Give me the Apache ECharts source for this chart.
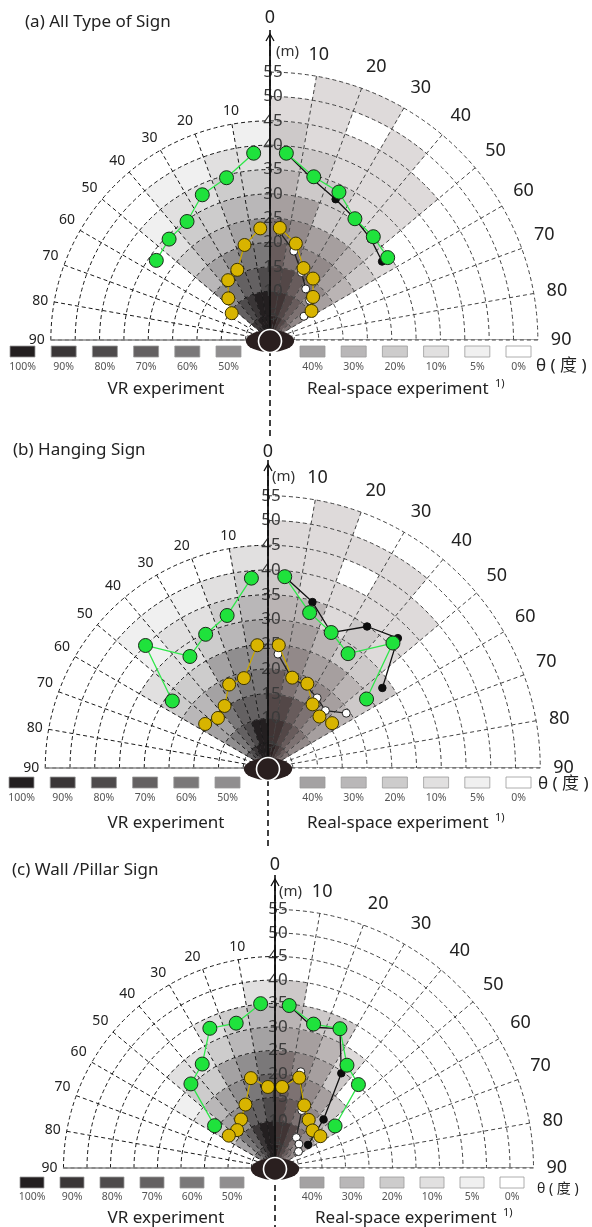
<!DOCTYPE html>
<html>
<head>
<meta charset="utf-8">
<script src="https://cdn.jsdelivr.net/npm/echarts@6/dist/echarts.min.js"></script>
<style>
  html, body { margin: 0; padding: 0; background: #fff; }
  #main { width: 592px; height: 1227px; }
</style>
</head>
<body>
<div id="main"></div>
<script>
// angle of each plotted point, degrees from the vertical (VR side is mirrored to the left)
const pointAngles = [5, 15, 25, 35, 45, 55];
const angleBinWidth = 10;
const radiusBinWidth = 5;
const vrMax = 45;
const realMax = 55;
const legendVR = [100, 90, 80, 70, 60, 50];
const legendReal = [40, 30, 20, 10, 5, 0];

// shading in %, one row per 10° bin (0-10, 10-20, ...), one value per 5 m ring (0-5, 5-10, ...)
const shadeA_VR = [
  [100, 100, 80, 60, 50, 30, 20, 10, 5],
  [100, 100, 70, 60, 40, 30, 20, 10],
  [100, 90, 70, 50, 30, 20, 10, 5],
  [90, 80, 60, 40, 30, 20, 10, 5],
  [90, 70, 50, 30, 20, 10, 5]
];
const shadeA_Real = [
  [100, 90, 80, 70, 60, 40, 30, 20, 20, 10],
  [100, 90, 80, 60, 50, 40, 20, 20, 10, 10, 10],
  [90, 80, 70, 50, 40, 20, 20, 10, 10, 0, 10],
  [80, 70, 60, 50, 40, 20, 10, 10, 10, 10],
  [70, 60, 50, 40, 30, 20, 10, 10, 10],
  [60, 50, 40, 30, 20, 10]
];
const shadeB_VR = [
  [100, 100, 70, 60, 50, 40, 30, 20, 10],
  [100, 100, 70, 60, 50, 30, 20, 10],
  [100, 80, 70, 50, 40, 20, 10, 5],
  [90, 70, 60, 40, 20, 10, 10, 5],
  [80, 60, 40, 30, 20, 10, 5, 5],
  [70, 50, 40, 30, 20, 10]
];
const shadeB_Real = [
  [100, 90, 80, 70, 50, 40, 30, 20, 10, 10],
  [100, 90, 80, 60, 50, 40, 30, 10, 10, 10, 10],
  [90, 80, 70, 50, 40, 30, 10, 10, 0, 10],
  [80, 70, 60, 50, 40, 20, 20, 10, 10, 10],
  [70, 60, 50, 40, 30, 20, 10, 10, 10],
  [60, 50, 40, 30, 20, 20]
];
const shadeC_VR = [
  [100, 100, 80, 70, 60, 40, 30, 10],
  [100, 100, 70, 60, 50, 30, 20],
  [90, 90, 70, 50, 40, 20, 10],
  [80, 70, 50, 40, 20, 10],
  [70, 60, 40, 30, 20, 10],
  [60, 40, 20, 10, 5]
];
const shadeC_Real = [
  [100, 90, 80, 70, 60, 40, 30, 20],
  [90, 90, 70, 60, 50, 40, 20],
  [80, 80, 60, 50, 40, 30, 20],
  [70, 60, 50, 40, 20, 10],
  [60, 50, 30, 20],
  [50, 40, 20]
];

// distances (m) at pointAngles
const greenA_VR = [38.5, 34.5, 32.9, 29.7, 29.3, 28.5];
const yellowA_VR = [23.0, 20.2, 15.9, 15.0, 12.1, 9.6];
const greenA_Real = [38.5, 34.7, 33.5, 30.4, 30.0, 29.5];
const blackA_Real = [38.5, 34.1, 31.9, 30.4, 29.3, 28.1];
const yellowA_Real = [23.1, 20.5, 16.3, 15.4, 12.5, 10.4];
const whiteA_Real = [22.3, 18.9, 15.3, 12.8, 11.5, 8.5];

const greenB_VR = [38.5, 31.9, 29.8, 27.5, 35.0, 23.6];
const yellowB_VR = [24.9, 18.8, 18.6, 15.3, 14.3, 15.5];
const greenB_Real = [38.8, 32.5, 30.2, 28.2, 35.7, 24.3];
const blackB_Real = [38.8, 34.7, 30.2, 34.9, 37.1, 28.2];
const yellowB_Real = [24.9, 18.9, 18.8, 15.7, 14.7, 15.8];
const whiteB_Real = [23.1, 18.7, 18.3, 17.3, 16.4, 19.3];

const greenC_VR = [35.1, 31.9, 32.8, 27.0, 25.3, 15.7];
const yellowC_VR = [17.3, 19.8, 14.9, 12.6, 11.4, 12.0];
const greenC_Real = [34.7, 31.7, 32.7, 26.7, 25.1, 15.6];
const blackC_Real = [34.7, 31.0, 32.7, 24.6, 14.6, 8.6];
const yellowC_Real = [17.3, 19.9, 14.7, 12.5, 11.3, 11.8];
const whiteC_Real = [17.0, 21.2, 13.5, 7.9, 7.2, 6.1];

const grayVR = {100: '#231f20', 90: '#3a3637', 80: '#4e4b4c', 70: '#646162', 60: '#7a7879', 50: '#908e8f',
  40: '#a4a2a3', 30: '#b9b7b8', 20: '#cdcccc', 10: '#e1e0e0', 5: '#f0f0f0', 0: '#ffffff'};
const grayReal = {100: '#2d2222', 90: '#403434', 80: '#534747', 70: '#685c5c', 60: '#7d7272', 50: '#928989',
  40: '#a69f9f', 30: '#bab4b4', 20: '#cdc9c9', 10: '#dedada', 5: '#ecebeb', 0: '#ffffff'};

const FONT = '"Noto Sans", "Noto Sans CJK SC", sans-serif';

const panels = [
  {title: '(a) All Type of Sign', titleX: 25, titleY: 22, cx: 270, cy: 340, k: 4.87,
    tipY: 34, zeroY: 18, mX: 276, mY: 52, dashTop: 30, dashBottom: 440,
    legY: 346, labY: 367, expY: 389, lx: 10, rx: 300, step: 41.2, sw: 25, thX: 536, thY: 366, thSize: 17,
    vrX: 166, realX: 307,
    shadeVR: shadeA_VR, shadeReal: shadeA_Real, greenVR: greenA_VR, yellowVR: yellowA_VR,
    greenReal: greenA_Real, blackReal: blackA_Real, yellowReal: yellowA_Real, whiteReal: whiteA_Real},
  {title: '(b) Hanging Sign', titleX: 13, titleY: 450, cx: 268, cy: 768, k: 4.95,
    tipY: 464, zeroY: 452, mX: 272, mY: 477, dashTop: 460, dashBottom: 850,
    legY: 777, labY: 798, expY: 823, lx: 9, rx: 300, step: 41.2, sw: 25, thX: 538, thY: 784, thSize: 17,
    vrX: 166, realX: 307,
    shadeVR: shadeB_VR, shadeReal: shadeB_Real, greenVR: greenB_VR, yellowVR: yellowB_VR,
    greenReal: greenB_Real, blackReal: blackB_Real, yellowReal: yellowB_Real, whiteReal: whiteB_Real},
  {title: '(c) Wall /Pillar Sign', titleX: 12, titleY: 870, cx: 275, cy: 1168, k: 4.7,
    tipY: 879, zeroY: 865, mX: 279, mY: 892, dashTop: 875, dashBottom: 1227,
    legY: 1177, labY: 1197, expY: 1218, lx: 20, rx: 300, step: 40, sw: 24, thX: 537, thY: 1189, thSize: 14,
    vrX: 166, realX: 315,
    shadeVR: shadeC_VR, shadeReal: shadeC_Real, greenVR: greenC_VR, yellowVR: yellowC_VR,
    greenReal: greenC_Real, blackReal: blackC_Real, yellowReal: yellowC_Real, whiteReal: whiteC_Real}
];

// [r0, r1, a0, a1, pct] for every shaded cell; sign -1 puts it on the VR (left) side
function cellData(grid, sign) {
  const out = [];
  grid.forEach((row, ai) => {
    row.forEach((pct, ri) => {
      if (!pct) return;
      const a0 = ai * angleBinWidth, a1 = a0 + angleBinWidth;
      out.push([ri * radiusBinWidth, (ri + 1) * radiusBinWidth,
        sign < 0 ? -a1 : a0, sign < 0 ? -a0 : a1, pct]);
    });
  });
  return out;
}

function cellRenderer(palette) {
  return function (params, api) {
    const r0 = api.value(0), r1 = api.value(1), a0 = api.value(2), a1 = api.value(3), pct = api.value(4);
    const c = api.coord([0, a0]);
    const pin = api.coord([r0, a0]);
    const p0 = api.coord([r1, a0]);
    const p1 = api.coord([r1, a1]);
    let s = Math.atan2(p0[1] - c[1], p0[0] - c[0]);
    let e = Math.atan2(p1[1] - c[1], p1[0] - c[0]);
    if (s > e) { const t = s; s = e; e = t; }
    const col = palette[pct];
    return {
      type: 'sector',
      shape: {cx: c[0], cy: c[1], r0: Math.hypot(pin[0] - c[0], pin[1] - c[1]),
        r: Math.hypot(p0[0] - c[0], p0[1] - c[1]), startAngle: s, endAngle: e, clockwise: true},
      style: {fill: col, stroke: col, lineWidth: 0.6}
    };
  };
}

const markStyles = {
  green: {size: 14, fill: '#1fe23c', border: '#1b2b1b', line: '#2fe64a', z: 12},
  yellow: {size: 13, fill: '#d8b400', border: '#3b3300', line: '#c8a700', z: 11},
  black: {size: 7.5, fill: '#0d0d0d', border: '#0d0d0d', line: '#111111', z: 9},
  white: {size: 8, fill: '#ffffff', border: '#222222', line: '#222222', z: 8}
};

function pointSeries(name, polarIndex, values, sign, st) {
  return {
    name: name, type: 'line', coordinateSystem: 'polar', polarIndex: polarIndex,
    data: values.map((r, i) => [r, sign * pointAngles[i]]),
    symbol: 'circle', symbolSize: st.size, clip: false, z: st.z,
    itemStyle: {color: st.fill, borderColor: st.border, borderWidth: 1},
    lineStyle: {color: st.line, width: 1.3}
  };
}

const polar = [], angleAxis = [], radiusAxis = [], series = [], graphics = [];

panels.forEach((p, i) => {
  const L = i * 2, R = i * 2 + 1;
  polar.push({center: [p.cx, p.cy], radius: vrMax * p.k});
  polar.push({center: [p.cx, p.cy], radius: realMax * p.k});

  angleAxis.push({
    polarIndex: L, type: 'value', min: -90, max: 0, interval: 10,
    startAngle: 180, endAngle: 90, clockwise: true, z: 5,
    axisLine: {show: false}, axisTick: {show: false},
    axisLabel: {formatter: v => (v === 0 ? '' : String(-v)), margin: 6, fontSize: 14, color: '#222', fontFamily: FONT},
    splitLine: {show: true, lineStyle: {color: '#1a1a1a', type: [4, 3], width: 1}}
  });
  angleAxis.push({
    polarIndex: R, type: 'value', min: 0, max: 90, interval: 10,
    startAngle: 90, endAngle: 0, clockwise: true, z: 5,
    axisLine: {show: false}, axisTick: {show: false},
    axisLabel: {formatter: v => (v === 0 ? '' : String(v)), margin: 13, fontSize: 18, color: '#222', fontFamily: FONT},
    splitLine: {show: true, lineStyle: {color: '#444', type: [4, 3], width: 1}}
  });
  radiusAxis.push({
    polarIndex: L, type: 'value', min: 0, max: vrMax, interval: radiusBinWidth, z: 5,
    axisLine: {show: true, lineStyle: {color: '#8a8a8a', width: 1.5}},
    axisTick: {show: false}, axisLabel: {show: false},
    splitLine: {show: true, lineStyle: {color: '#1a1a1a', type: [4, 3], width: 1}}
  });
  radiusAxis.push({
    polarIndex: R, type: 'value', min: 0, max: realMax, interval: radiusBinWidth, z: 6,
    axisLine: {show: false}, axisTick: {show: false},
    axisLabel: {formatter: v => (v === 0 ? '' : String(v)), fontSize: 17, color: '#3a3a3a',
      margin: -3, align: 'center', fontFamily: FONT},
    splitLine: {show: true, lineStyle: {color: '#444', type: [4, 3], width: 1}}
  });

  series.push({type: 'custom', coordinateSystem: 'polar', polarIndex: L, z: 1, silent: true,
    encode: {radius: [0, 1], angle: [2, 3]}, data: cellData(p.shadeVR, -1), renderItem: cellRenderer(grayVR)});
  series.push({type: 'custom', coordinateSystem: 'polar', polarIndex: R, z: 1, silent: true,
    encode: {radius: [0, 1], angle: [2, 3]}, data: cellData(p.shadeReal, 1), renderItem: cellRenderer(grayReal)});
  series.push({type: 'line', coordinateSystem: 'polar', polarIndex: R, symbol: 'none', clip: false, z: 4, silent: true,
    data: [[0, 90], [realMax + 1.5, 90]], lineStyle: {color: '#8a8a8a', width: 1.5}});

  series.push(pointSeries('white', R, p.whiteReal, 1, markStyles.white));
  series.push(pointSeries('black', R, p.blackReal, 1, markStyles.black));
  series.push(pointSeries('yellow', L, p.yellowVR, -1, markStyles.yellow));
  series.push(pointSeries('yellow', R, p.yellowReal, 1, markStyles.yellow));
  series.push(pointSeries('green', L, p.greenVR, -1, markStyles.green));
  series.push(pointSeries('green', R, p.greenReal, 1, markStyles.green));

  // decorations: title, axis arrow, centre line, eye, legends
  graphics.push({type: 'text', x: p.titleX, y: p.titleY, style: {text: p.title, fontSize: 17, fontFamily: FONT,
    fill: '#222', align: 'left', verticalAlign: 'middle'}});
  graphics.push({type: 'line', z: 95, shape: {x1: p.cx, y1: p.dashTop, x2: p.cx, y2: p.dashBottom},
    style: {stroke: '#111', lineWidth: 1.6, lineDash: [6, 4]}});
  graphics.push({type: 'line', z: 96, shape: {x1: p.cx, y1: p.cy, x2: p.cx, y2: p.tipY},
    style: {stroke: '#111', lineWidth: 1.8}});
  graphics.push({type: 'polyline', z: 96, shape: {points: [[p.cx - 4, p.tipY + 7], [p.cx, p.tipY], [p.cx + 4, p.tipY + 7]]},
    style: {stroke: '#111', lineWidth: 1.3, fill: 'transparent'}});
  graphics.push({type: 'text', x: p.cx, y: p.zeroY, style: {text: '0', fontSize: 18, fontFamily: FONT,
    fill: '#222', align: 'center', verticalAlign: 'middle'}});
  graphics.push({type: 'text', x: p.mX, y: p.mY, style: {text: '(m)', fontSize: 15, fontFamily: FONT,
    fill: '#333', align: 'left', verticalAlign: 'middle'}});
  graphics.push({type: 'circle', z: 97, x: p.cx, y: p.cy + 1, scaleX: 2.2, scaleY: 1,
    shape: {cx: 0, cy: 0, r: 11}, style: {fill: '#2a1f1f'}});
  graphics.push({type: 'circle', z: 98, shape: {cx: p.cx, cy: p.cy + 1, r: 11.5},
    style: {fill: 'transparent', stroke: '#ffffff', lineWidth: 1.6}});

  legendVR.forEach((v, j) => {
    const x = p.lx + j * p.step;
    graphics.push({type: 'rect', shape: {x: x, y: p.legY, width: p.sw, height: 11},
      style: {fill: grayVR[v], stroke: '#9a9a9a', lineWidth: 0.8}});
    graphics.push({type: 'text', x: x + p.sw / 2, y: p.labY, style: {text: v + '%', fontSize: 10.5, fontFamily: FONT,
      fill: '#555', align: 'center', verticalAlign: 'middle'}});
  });
  legendReal.forEach((v, j) => {
    const x = p.rx + j * p.step;
    graphics.push({type: 'rect', shape: {x: x, y: p.legY, width: p.sw, height: 11},
      style: {fill: grayVR[v], stroke: '#9a9a9a', lineWidth: 0.8}});
    graphics.push({type: 'text', x: x + p.sw / 2, y: p.labY, style: {text: v + '%', fontSize: 10.5, fontFamily: FONT,
      fill: '#555', align: 'center', verticalAlign: 'middle'}});
  });
  graphics.push({type: 'text', x: p.thX, y: p.thY, style: {text: 'θ ( 度 )', fontSize: p.thSize,
    fontFamily: FONT, fill: '#222', align: 'left', verticalAlign: 'middle'}});
  graphics.push({type: 'text', x: p.vrX, y: p.expY, style: {text: 'VR experiment', fontSize: 17,
    fontFamily: FONT, fill: '#222', align: 'center', verticalAlign: 'middle'}});
  graphics.push({type: 'text', x: p.realX, y: p.expY, style: {text: 'Real-space experiment', fontSize: 17,
    fontFamily: FONT, fill: '#222', align: 'left', verticalAlign: 'middle'}});
  graphics.push({type: 'text', x: p.realX + 188, y: p.expY - 5, style: {text: '1)', fontSize: 11,
    fontFamily: FONT, fill: '#222', align: 'left', verticalAlign: 'middle'}});
});

const chart = echarts.init(document.getElementById('main'));
chart.setOption({
  animation: false,
  backgroundColor: '#fff',
  polar: polar,
  angleAxis: angleAxis,
  radiusAxis: radiusAxis,
  series: series,
  graphic: {elements: graphics}
});
</script>
</body>
</html>
